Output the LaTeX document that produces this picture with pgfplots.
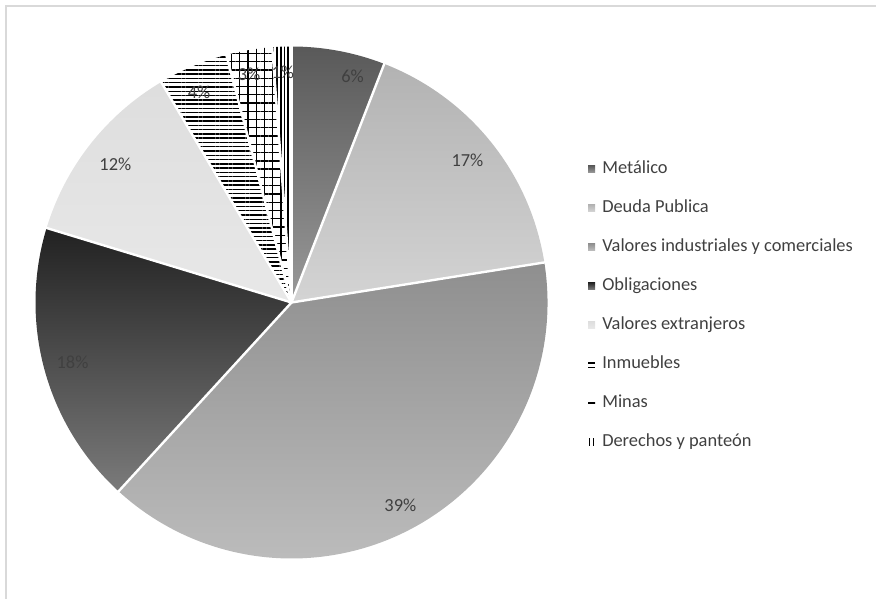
\documentclass[border=0pt]{standalone}
\usepackage{fontspec}
\setmainfont{Carlito}
\usepackage{pgfplots}
\pgfplotsset{compat=1.18}
\usepackage{pgfplotstable}
\usetikzlibrary{patterns.meta}

\definecolor{txt}{HTML}{404040}
\definecolor{framegray}{HTML}{D9D9D9}

% value = share in %, shift = label angle correction (deg), rad = label radius (px)
\pgfplotstableread[col sep=comma]{
name,value,shift,rad
Metálico,5.9,-4.5,234
Deuda Publica,16.6,0,226
Valores industriales y comerciales,39.3,0,230
Obligaciones,17.9,0,227
Valores extranjeros,11.8,0,224
Inmuebles,4.4,1,230
Minas,2.9,1,232
Derechos y panteón,1.2,0,230
}\piedata

\tikzset{
  slice0/.style={top color=black!65, bottom color=black!40},
  slice1/.style={top color=black!30, bottom color=black!17},
  slice2/.style={top color=black!44, bottom color=black!26},
  slice3/.style={top color=black!87, bottom color=black!52},
  slice4/.style={top color=black!13, bottom color=black!9},
  slice5/.style={pattern={Lines[angle=0,distance=3.2pt,line width=1.1pt]}},
  slice6/.style={pattern={Hatch[angle=0,distance=6.2pt,line width=1pt]}},
  slice7/.style={pattern={Lines[angle=90,distance=2.7pt,line width=1.1pt]}},
  leg0/.style={slice0}, leg1/.style={slice1}, leg2/.style={slice2},
  leg3/.style={slice3}, leg4/.style={slice4},
  leg5/.style={pattern={Lines[angle=0,distance=3.2pt,line width=1pt,yshift=1pt]}},
  leg6/.style={pattern={Lines[angle=0,distance=8pt,line width=1pt,yshift=3pt]}},
  leg7/.style={pattern={Lines[angle=90,distance=3pt,line width=1pt,xshift=1pt]}},
}

% cumulative angles, clockwise from the top
\def\angstart{90}
\pgfplotsforeachungrouped \i in {0,...,7}{%
  \pgfplotstablegetelem{\i}{value}\of\piedata
  \let\v\pgfplotsretval
  \pgfmathsetmacro\e{\angstart-3.6*\v}
  \expandafter\xdef\csname s\i\endcsname{\angstart}%
  \expandafter\xdef\csname e\i\endcsname{\e}%
  \pgfplotstablegetelem{\i}{shift}\of\piedata
  \pgfmathsetmacro\m{(\angstart+\e)/2+\pgfplotsretval}%
  \expandafter\xdef\csname m\i\endcsname{\m}%
  \pgfplotstablegetelem{\i}{rad}\of\piedata
  \pgfmathsetmacro\r{0.75*\pgfplotsretval}%
  \expandafter\xdef\csname r\i\endcsname{\r}%
  \pgfmathtruncatemacro\p{round(\v)}%
  \expandafter\xdef\csname p\i\endcsname{\p}%
  \pgfplotstablegetelem{\i}{name}\of\piedata
  \expandafter\xdef\csname n\i\endcsname{\pgfplotsretval}%
  \xdef\angstart{\e}%
}

\begin{document}
\begin{tikzpicture}
\begin{axis}[
    hide axis, scale only axis, clip=false,
    width=657pt, height=449.25pt,
    xmin=0, xmax=876, ymin=0, ymax=599,
  ]
  % slices
  \pgfplotsinvokeforeach{0,...,7}{
    \path[slice#1] (axis cs:291.5,296.5) -- ++(\csname s#1\endcsname:192pt)
      arc[start angle=\csname s#1\endcsname, end angle=\csname e#1\endcsname, radius=192pt] -- cycle;
  }
  % white separators
  \pgfplotsinvokeforeach{0,...,7}{
    \draw[white, line width=1.8pt] (axis cs:291.5,296.5) -- ++(\csname s#1\endcsname:192.5pt);
  }
  % percentage labels
  \pgfplotsinvokeforeach{0,...,7}{
    \path (axis cs:291.5,296.5) ++(\csname m#1\endcsname:\csname r#1\endcsname pt)
      node[font=\fontsize{13.8}{16}\selectfont, text=txt] {\csname p#1\endcsname\%};
  }
  % legend
  \pgfplotsinvokeforeach{0,...,7}{
    \path[leg#1] (axis cs:588,{426.5-38.95*#1}) rectangle ++(5.25pt,5.25pt);
    \node[anchor=base west, inner sep=0pt, text=txt, font=\fontsize{13.8}{16}\selectfont]
      at (axis cs:602,{425-38.95*#1}) {\csname n#1\endcsname};
  }
  % chart area frame
  \draw[framegray, line width=1.1pt] (axis cs:876,593) -- (axis cs:6,593) -- (axis cs:6,0);
\end{axis}
\pgfresetboundingbox
\useasboundingbox (0,0) rectangle (657pt,449.25pt);
\end{tikzpicture}
\end{document}
